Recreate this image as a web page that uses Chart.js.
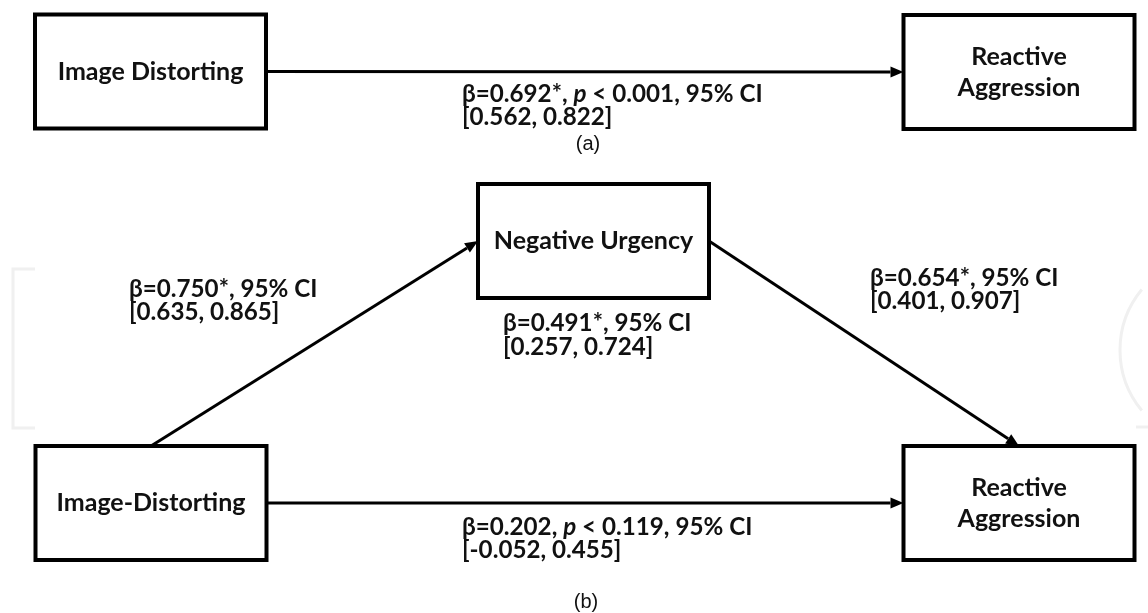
<!DOCTYPE html>
<html lang="en-US">
<head>
  <meta charset="utf-8">
  <title>Mediation path diagram</title>
  <script src="https://cdn.jsdelivr.net/npm/chart.js@4.4.1/dist/chart.umd.min.js"></script>
  <style>
    html, body { margin: 0; padding: 0; background: #fff; }
    canvas { display: block; }
  </style>
</head>
<body>
  <canvas id="chart-0" width="1148" height="613"></canvas>

  <script>
    // diagram nodes (centres in diagram units)
    let nodeLabels = [
      ['Image Distorting'],
      ['Reactive', 'Aggression'],
      ['Negative Urgency'],
      ['Image-Distorting'],
      ['Reactive', 'Aggression']
    ];
    let nodeX = [150.5, 1019, 593.5, 151, 1019];
    let nodeY = [71.5, 72, 241, 503, 503];

    // paths: [from, fromSide, to, toSide]
    let edges = [
      [0, 'right', 1, 'left'],
      [3, 'top', 2, 'left'],
      [2, 'right', 4, 'top'],
      [3, 'right', 4, 'left']
    ];
    let edgeLabels = [
      ['β=0.692*, p < 0.001, 95% CI', '[0.562, 0.822]'],
      ['β=0.750*, 95% CI', '[0.635, 0.865]'],
      ['β=0.654*, 95% CI', '[0.401, 0.907]'],
      ['β=0.202, p < 0.119, 95% CI', '[-0.052, 0.455]']
    ];
    let edgeLabelX = [462, 129, 870, 462];
    let edgeLabelY = [94, 289, 278, 527];

    // indirect-effect note under the mediator
    let noteLabel = ['β=0.491*, 95% CI', '[0.257, 0.724]'];
    let noteX = [503];
    let noteY = [323];

    let panelLabels = ['(a)', '(b)'];
    let panelX = [588, 586];
    let panelY = [144, 602];

    let BOX_W = 231, BOX_H = 114;
    let boldFont = 'bold 25px Lato, "Open Sans", sans-serif';
    let labelFont = 'bold 24.2px Lato, "Open Sans", sans-serif';
    let labelItalic = 'italic bold 24.2px Lato, "Open Sans", sans-serif';

    function anchor(xs, ys, i, side) {
      let cx = xs.getPixelForValue(nodeX[i]);
      let cy = ys.getPixelForValue(nodeY[i]);
      let hw = BOX_W / 2, hh = BOX_H / 2;
      if (side === 'right') return [cx + hw, cy];
      if (side === 'left') return [cx - hw, cy];
      if (side === 'top') return [cx, cy - hh];
      return [cx, cy + hh];
    }

    function drawArrow(ctx, x1, y1, x2, y2) {
      let ang = Math.atan2(y2 - y1, x2 - x1);
      let len = 13, half = 5.5;
      let bx = x2 - len * Math.cos(ang), by = y2 - len * Math.sin(ang);
      ctx.beginPath();
      ctx.moveTo(x1, y1);
      ctx.lineTo(bx, by);
      ctx.stroke();
      ctx.beginPath();
      ctx.moveTo(x2, y2);
      ctx.lineTo(bx + half * Math.sin(ang), by - half * Math.cos(ang));
      ctx.lineTo(bx - half * Math.sin(ang), by + half * Math.cos(ang));
      ctx.closePath();
      ctx.fill();
    }

    function drawRich(ctx, text, x, y) {
      // the single letter p is set in italics
      let parts = text.split(/(\bp\b)/);
      let cx = x;
      parts.forEach(function(part) {
        ctx.font = part === 'p' ? labelItalic : labelFont;
        ctx.fillText(part, cx, y);
        cx += ctx.measureText(part).width;
      });
    }

    // faint remains of a watermark at the page edges
    function drawWatermark(ctx) {
      ctx.save();
      ctx.strokeStyle = '#f0f0f0';
      ctx.lineWidth = 3;
      ctx.beginPath();
      ctx.moveTo(35, 269);
      ctx.lineTo(13, 269);
      ctx.lineTo(13, 428);
      ctx.lineTo(35, 428);
      ctx.stroke();
      ctx.beginPath();
      ctx.arc(1215, 350, 95, Math.PI * 0.78, Math.PI * 1.22);
      ctx.stroke();
      ctx.beginPath();
      ctx.moveTo(1136, 427);
      ctx.lineTo(1148, 427);
      ctx.stroke();
      ctx.restore();
    }

    let diagramPlugin = {
      id: 'diagram',
      afterDatasetsDraw: function(chart) {
        let ctx = chart.ctx;
        let xs = chart.scales.x, ys = chart.scales.y;
        drawWatermark(ctx);
        ctx.save();
        ctx.strokeStyle = '#000';
        ctx.fillStyle = '#000';
        ctx.lineWidth = 3;

        edges.forEach(function(e) {
          let a = anchor(xs, ys, e[0], e[1]);
          let b = anchor(xs, ys, e[2], e[3]);
          drawArrow(ctx, a[0], a[1], b[0], b[1]);
        });

        ctx.lineWidth = 4;
        nodeLabels.forEach(function(lines, i) {
          let cx = xs.getPixelForValue(nodeX[i]);
          let cy = ys.getPixelForValue(nodeY[i]);
          ctx.fillStyle = '#fff';
          ctx.fillRect(cx - BOX_W / 2, cy - BOX_H / 2, BOX_W, BOX_H);
          ctx.strokeRect(cx - BOX_W / 2, cy - BOX_H / 2, BOX_W, BOX_H);
          ctx.fillStyle = '#111';
          ctx.font = boldFont;
          ctx.textAlign = 'center';
          ctx.textBaseline = 'middle';
          let lh = 31;
          lines.forEach(function(t, k) {
            ctx.fillText(t, cx, cy + (k - (lines.length - 1) / 2) * lh);
          });
        });

        ctx.textAlign = 'left';
        ctx.textBaseline = 'middle';
        ctx.fillStyle = '#111';
        edgeLabels.forEach(function(lines, i) {
          let x = xs.getPixelForValue(edgeLabelX[i]);
          let y = ys.getPixelForValue(edgeLabelY[i]);
          lines.forEach(function(t, k) {
            drawRich(ctx, t, x, y + k * 23.5);
          });
        });
        noteLabel.forEach(function(t, k) {
          drawRich(ctx, t, xs.getPixelForValue(noteX[0]), ys.getPixelForValue(noteY[0]) + k * 24);
        });

        ctx.font = '20px "Liberation Sans", Arial, sans-serif';
        ctx.textAlign = 'center';
        panelLabels.forEach(function(t, i) {
          ctx.fillText(t, xs.getPixelForValue(panelX[i]), ys.getPixelForValue(panelY[i]));
        });
        ctx.restore();
      }
    };

    let chart = new Chart('chart-0', {
      type: 'scatter',
      data: {
        datasets: [{
          data: nodeX.map(function(x, i) { return {x: x, y: nodeY[i]}; }),
          pointRadius: 0
        }]
      },
      options: {
        responsive: false,
        animation: false,
        layout: { padding: 0 },
        plugins: {
          legend: { display: false },
          tooltip: { enabled: false }
        },
        scales: {
          x: { type: 'linear', min: 0, max: 1148, display: false },
          y: { type: 'linear', min: 0, max: 613, reverse: true, display: false }
        }
      },
      plugins: [diagramPlugin]
    });
  </script>
</body>
</html>
